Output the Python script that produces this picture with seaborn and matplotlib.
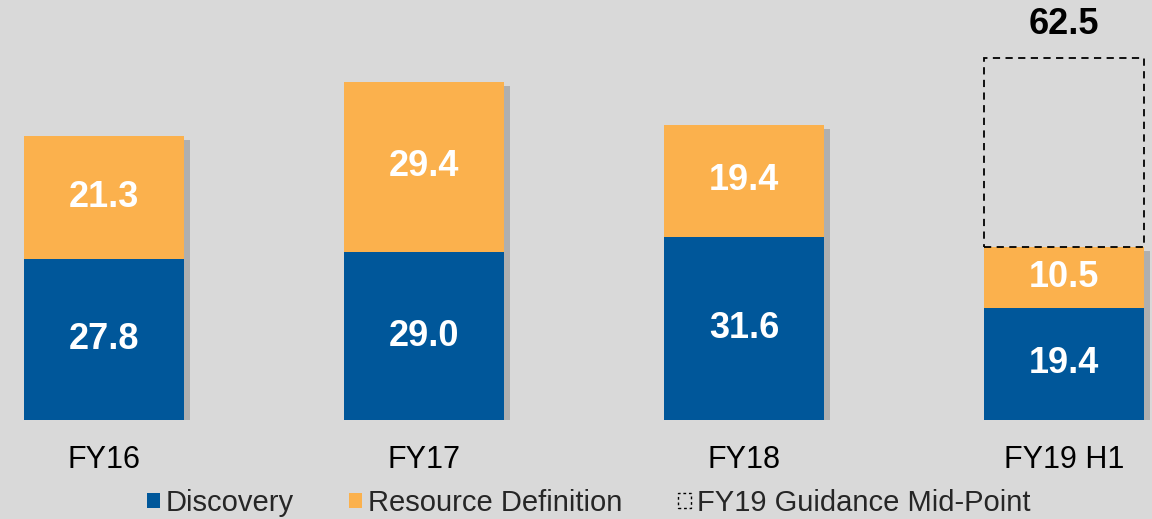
import matplotlib
matplotlib.use("Agg")
import matplotlib.pyplot as plt
import matplotlib.patheffects as pe
from matplotlib.patches import Patch
import seaborn as sns

categories = ["FY16", "FY17", "FY18", "FY19 H1"]
discovery = [27.8, 29.0, 31.6, 19.4]
resource_def = [21.3, 29.4, 19.4, 10.5]
guidance_mid = 62.5

blue = "#00579A"
orange = "#FBB14D"
bg = "#D9D9D9"

sns.set_theme(style="white")
plt.rcParams["font.family"] = ["Liberation Sans", "DejaVu Sans"]

totals = [d + r for d, r in zip(discovery, resource_def)]

fig = plt.figure(figsize=(11.52, 5.19), dpi=100, facecolor=bg)
ax = fig.add_axes([0, 99 / 519, 1, 420 / 519])
ax.set_facecolor(bg)

# soft-ish drop shadow like the original slide
shadow = [pe.SimplePatchShadow(offset=(4, -3), alpha=0.25, shadow_rgbFace="#333333"), pe.Normal()]

sns.barplot(x=categories, y=totals, color=orange, width=0.5, saturation=1,
            linewidth=0, edgecolor="none", ax=ax)
for p in ax.patches:
    p.set_path_effects(shadow)
sns.barplot(x=categories, y=discovery, color=blue, width=0.5, saturation=1,
            linewidth=0, edgecolor="none", ax=ax)

# guidance mid-point box for FY19
ax.bar(3, guidance_mid - totals[3], bottom=totals[3], width=0.5, fill=False,
       edgecolor="black", linestyle=(0, (4, 3)), linewidth=1.3)
ax.text(3, guidance_mid + 5.8, f"{guidance_mid}", ha="center", va="center",
        fontsize=26, fontweight="bold", color="black")

for i, (d, r) in enumerate(zip(discovery, resource_def)):
    ax.text(i, d / 2, f"{d:.1f}", ha="center", va="center", color="white",
            fontsize=26, fontweight="bold")
    ax.text(i, d + r / 2, f"{r:.1f}", ha="center", va="center", color="white",
            fontsize=26, fontweight="bold")

ax.set_xlim(-0.325, 3.275)
ax.set_ylim(0, 72.5)
ax.set_yticks([])
ax.tick_params(axis="x", length=0, pad=18, labelsize=22)
ax.set_xticks(range(len(categories)))
ax.set_xticklabels(categories, color="black")
for s in ax.spines.values():
    s.set_visible(False)

handles = [
    Patch(facecolor=blue, edgecolor="none", label="Discovery"),
    Patch(facecolor=orange, edgecolor="none", label="Resource Definition"),
    Patch(facecolor="none", edgecolor="black", linestyle=(0, (2, 2)), linewidth=1,
          label="FY19 Guidance Mid-Point"),
]
fig.legend(handles=handles, loc="center", bbox_to_anchor=(0.511, 16 / 519), ncol=3,
           frameon=False, fontsize=21, handlelength=0.45, handleheight=0.45,
           handletextpad=0.2, columnspacing=1.9)

fig.savefig("out.png", dpi=100, facecolor=bg)
